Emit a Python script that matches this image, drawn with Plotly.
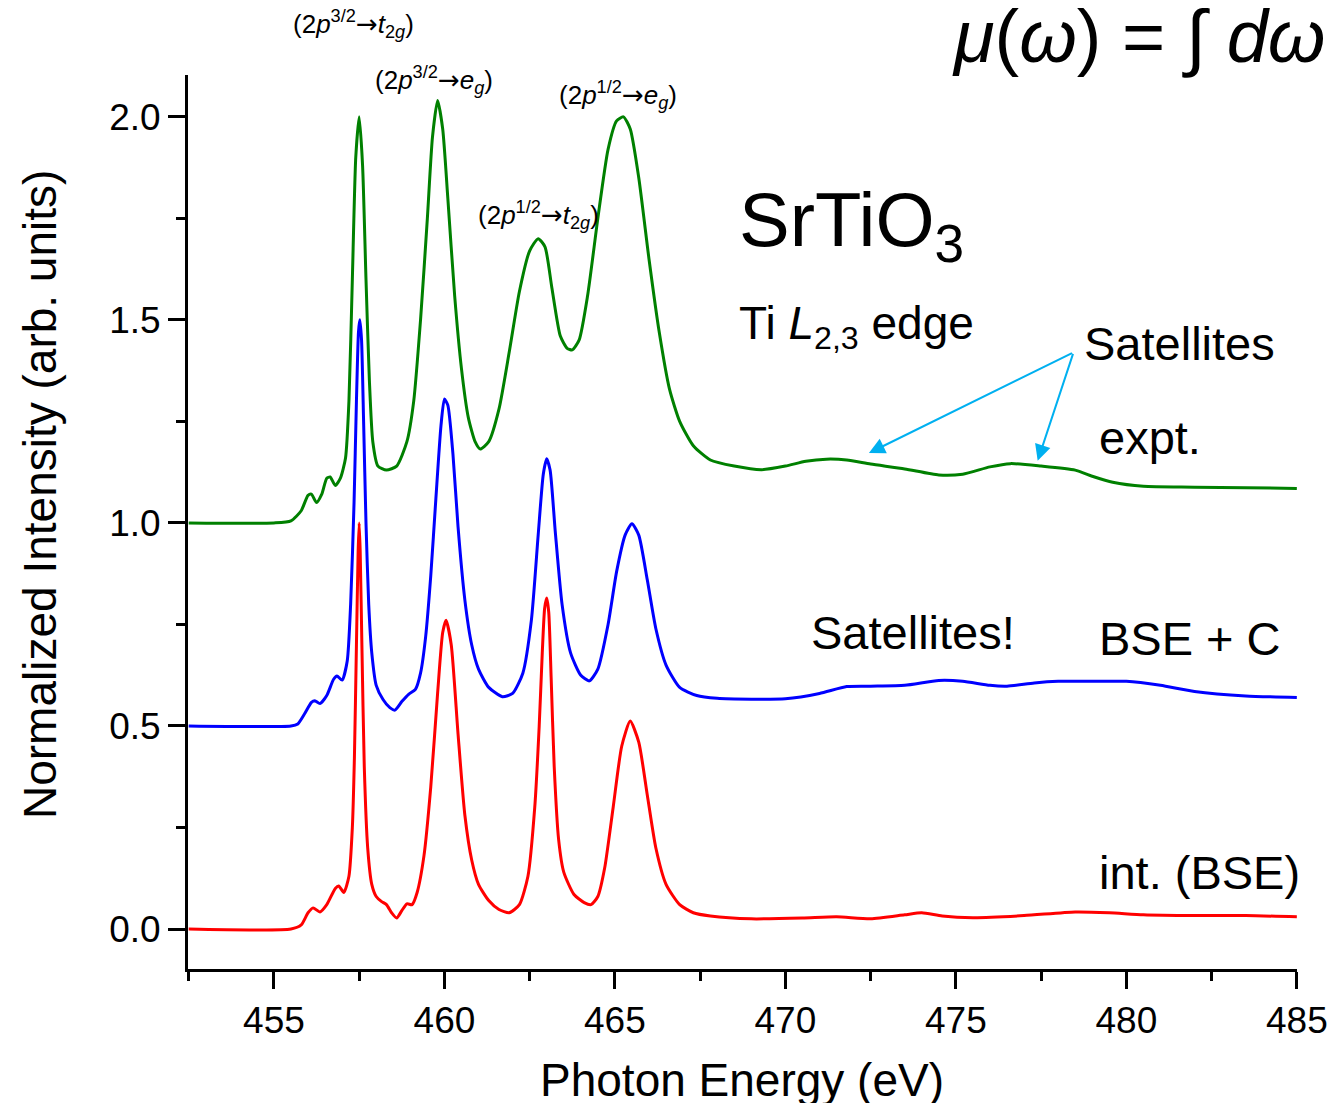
import plotly.graph_objects as go

# ---------------- data ----------------
red_E = [452.5, 455.5, 455.8, 456.0, 456.15, 456.35, 456.55, 456.8, 456.9, 457.05,
         457.2, 457.3, 457.36, 457.42, 457.47, 457.5, 457.53, 457.58, 457.65, 457.75,
         457.87, 458.0, 458.15, 458.3, 458.45, 458.6, 458.75, 458.9, 459.05, 459.2,
         459.4, 459.6, 459.8, 459.95, 460.05, 460.2, 460.4, 460.6, 460.8, 461.0,
         461.3, 461.6, 461.9, 462.2, 462.45, 462.65, 462.78, 462.87, 462.94, 463.0,
         463.06, 463.13, 463.22, 463.35, 463.5, 463.8, 464.1, 464.3, 464.5, 464.7,
         464.95, 465.2, 465.45, 465.7, 465.95, 466.2, 466.5, 466.9, 467.3, 467.8,
         469.0, 470.5, 471.5, 472.5, 473.5, 474.0, 474.6, 475.5, 477.0, 478.5,
         479.5, 480.5, 482.0, 483.5, 485.0]
red_I = [0.0, 0.0, 0.01, 0.04, 0.052, 0.042, 0.06, 0.10, 0.106, 0.09,
         0.13, 0.25, 0.42, 0.7, 0.93, 1.0, 0.93, 0.7, 0.4, 0.2,
         0.11, 0.08, 0.068, 0.06, 0.04, 0.027, 0.045, 0.062, 0.06, 0.09,
         0.18, 0.35, 0.58, 0.73, 0.76, 0.70, 0.48, 0.28, 0.17, 0.11,
         0.07, 0.048, 0.04, 0.06, 0.13, 0.3, 0.5, 0.68, 0.79, 0.815,
         0.78, 0.62, 0.4, 0.22, 0.14, 0.085, 0.065, 0.06, 0.08, 0.15,
         0.3, 0.45, 0.512, 0.46, 0.33, 0.2, 0.11, 0.06, 0.04, 0.032,
         0.025, 0.027, 0.03, 0.025, 0.035, 0.04, 0.032, 0.028, 0.033, 0.042,
         0.04, 0.035, 0.033, 0.033, 0.03]

blue_E = [452.5, 455.5, 455.7, 455.9, 456.1, 456.2, 456.35, 456.55, 456.75, 456.85,
          457.0, 457.15, 457.25, 457.35, 457.42, 457.48, 457.52, 457.57, 457.63, 457.7,
          457.78, 457.87, 458.0, 458.2, 458.4, 458.55, 458.75, 458.95, 459.15, 459.3,
          459.45, 459.6, 459.75, 459.9, 460.0, 460.1, 460.25, 460.4, 460.6, 460.8,
          461.0, 461.3, 461.7, 462.0, 462.3, 462.55, 462.75, 462.9, 463.0, 463.1,
          463.25, 463.45, 463.7, 464.0, 464.25, 464.5, 464.8, 465.05, 465.3, 465.5,
          465.7, 465.95, 466.2, 466.5, 466.9, 467.4, 468.0, 469.0, 470.0, 471.0,
          471.8, 472.5, 473.5, 474.5, 475.2, 476.0, 476.5, 477.3, 478.0, 479.0,
          480.0, 481.0, 482.0, 483.5, 485.0]
blue_I = [0.5, 0.5, 0.505, 0.53, 0.558, 0.562, 0.555, 0.575, 0.615, 0.623,
          0.613, 0.66, 0.8, 1.05, 1.3, 1.47, 1.5, 1.45, 1.25, 1.0,
          0.8, 0.68, 0.6, 0.565, 0.545, 0.539, 0.56, 0.578, 0.59, 0.63,
          0.72, 0.87, 1.06, 1.24, 1.305, 1.29, 1.17, 0.99, 0.81, 0.70,
          0.64, 0.595, 0.572, 0.58, 0.63, 0.76, 0.97, 1.12, 1.158, 1.13,
          0.98, 0.8, 0.68, 0.625, 0.611, 0.64, 0.75, 0.88, 0.97, 0.998,
          0.97, 0.86, 0.74, 0.65, 0.595, 0.575, 0.568, 0.566, 0.567, 0.58,
          0.597, 0.598, 0.6, 0.612, 0.61, 0.6, 0.598, 0.606, 0.61, 0.61,
          0.61, 0.6, 0.585, 0.574, 0.57]

green_E = [452.5, 455.0, 455.5, 455.8, 456.0, 456.1, 456.25, 456.4, 456.55, 456.65,
           456.8, 456.95, 457.1, 457.2, 457.3, 457.4, 457.5, 457.6, 457.7, 457.8,
           457.9, 458.05, 458.3, 458.6, 458.9, 459.1, 459.3, 459.5, 459.65, 459.8,
           459.95, 460.1, 460.3, 460.5, 460.7, 460.9, 461.05, 461.3, 461.6, 461.9,
           462.2, 462.5, 462.75, 462.95, 463.15, 463.4, 463.6, 463.75, 463.95, 464.2,
           464.5, 464.8, 465.05, 465.25, 465.45, 465.7, 466.0, 466.3, 466.6, 466.9,
           467.3, 467.8, 468.5, 469.3, 470.0, 470.6, 471.2, 471.8, 472.5, 473.5,
           474.5, 475.2, 476.0, 476.6, 477.5, 478.5, 479.0, 479.6, 480.5, 482.0,
           485.0]
green_I = [1.0, 1.0, 1.005, 1.03, 1.068, 1.071, 1.05, 1.07, 1.11, 1.113,
           1.092, 1.11, 1.16, 1.3, 1.6, 1.9, 2.0, 1.88, 1.6, 1.35,
           1.2, 1.14, 1.13, 1.14, 1.2, 1.3, 1.5, 1.75, 1.95, 2.04,
           1.97, 1.8, 1.56, 1.38, 1.26, 1.2, 1.182, 1.2, 1.28, 1.42,
           1.57, 1.67, 1.70, 1.68, 1.58, 1.46, 1.43, 1.426, 1.45, 1.56,
           1.75, 1.92, 1.99, 2.0, 1.97, 1.85, 1.65, 1.47, 1.33, 1.25,
           1.19, 1.155, 1.14, 1.131, 1.14, 1.152, 1.157, 1.155, 1.145, 1.133,
           1.118, 1.12, 1.138, 1.146, 1.14, 1.13, 1.115, 1.1, 1.09, 1.088,
           1.085]

x_ticks = [455, 460, 465, 470, 475, 480, 485]
y_ticks = [0.0, 0.5, 1.0, 1.5, 2.0]

# ---------------- layout geometry ----------------
OFF = 8  # page body margin of the html page
W, H = 1335 - 2 * OFF, 1111 - 2 * OFF
L, R, T, B = 188 - OFF, 1297 - OFF, 75 - OFF, 969 - OFF
FONT = "Liberation Sans, Arial, sans-serif"


def px(xpix):
    return (xpix - OFF - L) / (R - L)


def py(ypix):
    return (B - (ypix - OFF)) / (B - T)


fig = go.Figure()
for E, I, c in [(red_E, red_I, "#FF0000"), (blue_E, blue_I, "#0000FF"),
                (green_E, green_I, "#008000")]:
    fig.add_trace(go.Scatter(x=E, y=I, mode="lines",
                             line=dict(color=c, width=3, shape="spline", smoothing=0.6),
                             showlegend=False, hoverinfo="skip", cliponaxis=False))

annotations = []


def txt(text, xpix, ypix, size, xanchor="center", yanchor="middle"):
    annotations.append(dict(text=text, x=px(xpix), y=py(ypix), xref="paper", yref="paper",
                            xanchor=xanchor, yanchor=yanchor, showarrow=False,
                            font=dict(size=size, color="black", family=FONT)))


ARW = '<span style="font-family:DejaVu Sans">→</span>'
txt("(2<i>p</i><sup>3/2</sup>" + ARW + "<i>t</i><sub>2<i>g</i></sub>)", 353, 24, 26)
txt("(2<i>p</i><sup>3/2</sup>" + ARW + "<i>e</i><sub><i>g</i></sub>)", 434, 80, 26)
txt("(2<i>p</i><sup>1/2</sup>" + ARW + "<i>e</i><sub><i>g</i></sub>)", 618, 95, 26)
txt("(2<i>p</i><sup>1/2</sup>" + ARW + "<i>t</i><sub>2<i>g</i></sub>)", 538, 215, 26)
txt("SrTiO<sub>3</sub>", 737, 225, 76, xanchor="left")
txt("Ti <i>L</i><sub>2,3</sub> edge", 737, 326, 46, xanchor="left")
txt("Satellites", 1082, 343, 47, xanchor="left")
txt("expt.", 1097, 437, 47, xanchor="left")
txt("Satellites!", 809, 632, 47, xanchor="left")
txt("BSE + C", 1097, 638, 47, xanchor="left")
txt("int. (BSE)", 1097, 872, 47, xanchor="left")
txt("<i>μ</i>(<i>ω</i>) = ∫ <i>dω</i>", 950, 36, 74, xanchor="left")
txt("Photon Energy (eV)", 742, 1080, 46)
annotations.append(dict(text="Normalized Intensity (arb. units)", x=px(40), y=py(495),
                        xref="paper", yref="paper", textangle=-90, showarrow=False,
                        xanchor="center", yanchor="middle",
                        font=dict(size=46, color="black", family=FONT)))

# arrows (tail at the "Satellites" label)
tail = (478.45, 1.42)
for head in [(472.45, 1.172), (477.4, 1.153)]:
    annotations.append(dict(x=head[0], y=head[1], ax=tail[0], ay=tail[1],
                            xref="x", yref="y", axref="x", ayref="y", text="",
                            showarrow=True, arrowhead=2, arrowsize=1.6, arrowwidth=2,
                            arrowcolor="#00B0F0"))

fig.update_layout(
    width=W, height=H,
    margin=dict(l=L, r=W - R, t=T, b=H - B),
    paper_bgcolor="white", plot_bgcolor="white",
    font=dict(family=FONT, color="black"),
    annotations=annotations,
    xaxis=dict(range=[452.48, 485.005], tickvals=x_ticks, ticks="outside", ticklen=17,
               tickwidth=3, tickcolor="black", showline=True, linewidth=3,
               linecolor="black", showgrid=False, zeroline=False, automargin=False,
               ticklabeloverflow="allow",
               tickfont=dict(size=37, family=FONT),
               minor=dict(dtick=2.5, tick0=455, ticks="outside", ticklen=9, tickwidth=3,
                          tickcolor="black", showgrid=False)),
    yaxis=dict(range=[-0.0985, 2.103], tickvals=y_ticks, tickformat=".1f", ticks="outside",
               ticklen=17, tickwidth=3, tickcolor="black", showline=True, linewidth=3,
               linecolor="black", showgrid=False, zeroline=False, automargin=False,
               ticklabeloverflow="allow",
               tickfont=dict(size=37, family=FONT),
               minor=dict(dtick=0.25, tick0=0, ticks="outside", ticklen=9, tickwidth=3,
                          tickcolor="black", showgrid=False)),
)

fig.write_html("out.html")
